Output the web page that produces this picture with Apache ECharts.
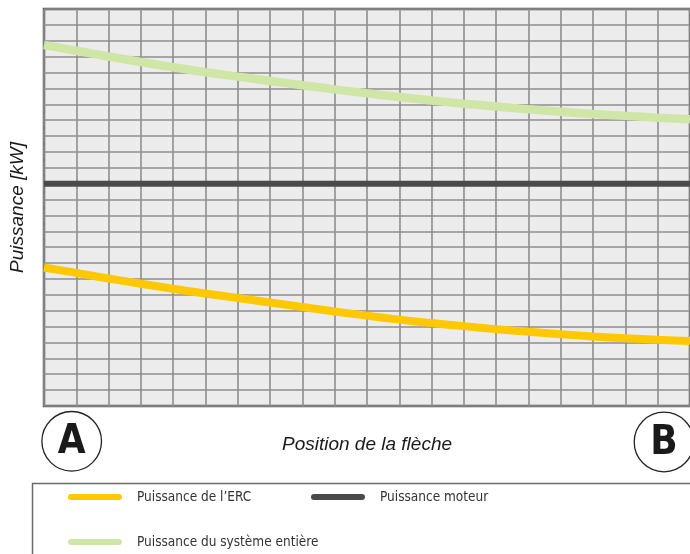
<!DOCTYPE html>
<html>
<head>
<meta charset="utf-8">
<script src="https://cdn.jsdelivr.net/npm/echarts@6/dist/echarts.min.js"></script>
<style>
html,body{margin:0;padding:0;background:#fff;}
#chart{width:690px;height:554px;}
</style>
</head>
<body>
<div id="chart"></div>
<script>
// ---- data ----
const positions = [0,1,2,3,4,5,6,7,8,9,10,11,12,13,14,15,16,17,18,19,20];
const ercPower = [8.72,8.38,8.03,7.70,7.38,7.08,6.80,6.52,6.23,5.95,5.69,5.44,5.22,5.03,4.84,4.67,4.52,4.38,4.26,4.17,4.09];
const motorPower = [14,14,14,14,14,14,14,14,14,14,14,14,14,14,14,14,14,14,14,14,14];
const systemPower = [22.73,22.37,22.01,21.66,21.33,21.02,20.74,20.47,20.20,19.94,19.69,19.46,19.24,19.04,18.86,18.68,18.53,18.39,18.27,18.15,18.05];
const seriesNames = ["Puissance de l\u2019ERC","Puissance moteur","Puissance du syst\u00e8me enti\u00e8re"];
const axisTitles = {x:"Position de la fl\u00e8che", y:"Puissance [kW]"};
const endLabels = ["A","B"];

const pair = (vals) => positions.map((p,i)=>[p, vals[i]]);
const condensed = "'Liberation Sans Narrow','DejaVu Sans Condensed','Roboto Condensed',sans-serif";
const legendText = {color:'#333', fontFamily:condensed, fontSize:13.5, padding:[0,0,0,10]};
const iconPath = 'path://M3,0 H51 A3,3 0 0 1 51,6 H3 A3,3 0 0 1 3,0 Z';
const titleFont = {fontStyle:'italic', fontSize:19, color:'#1a1a1a', fontFamily:"'Liberation Sans',Arial,sans-serif"};

const chart = echarts.init(document.getElementById('chart'), null, {renderer:'canvas'});
chart.setOption({
  animation:false,
  backgroundColor:'#fff',
  grid:{left:41, top:9, right:-4, bottom:148, show:true, backgroundColor:'#ebeceb', borderColor:'#505050', borderWidth:2.5, containLabel:false},
  xAxis:{type:'value', min:0, max:20, interval:1,
    name:axisTitles.x, nameLocation:'middle', nameGap:29, nameTextStyle:titleFont,
    axisLine:{show:false}, axisTick:{show:false}, axisLabel:{show:false},
    splitLine:{show:true, lineStyle:{color:'#8e8e8e', width:1.6}}},
  yAxis:{type:'value', min:0, max:25, interval:1,
    name:axisTitles.y, nameLocation:'middle', nameGap:17, nameRotate:90, nameTextStyle:titleFont,
    axisLine:{show:false}, axisTick:{show:false}, axisLabel:{show:false},
    splitLine:{show:true, lineStyle:{color:'#8e8e8e', width:1.6}}},
  legend:[
    {data:[seriesNames[0]], left:68, top:490, itemWidth:54, itemHeight:6, icon:iconPath, textStyle:legendText, padding:0},
    {data:[seriesNames[1]], left:311, top:490, itemWidth:54, itemHeight:6, icon:iconPath, textStyle:legendText, padding:0},
    {data:[seriesNames[2]], left:68, top:535, itemWidth:54, itemHeight:6, icon:iconPath, textStyle:legendText, padding:0}
  ],
  series:[
    {name:seriesNames[0], type:'line', data:pair(ercPower), smooth:0.4, symbol:'none',
      lineStyle:{color:'#ffc800', width:8}, itemStyle:{color:'#ffc800'}, z:3},
    {name:seriesNames[1], type:'line', data:pair(motorPower), symbol:'none',
      lineStyle:{color:'#4a4a4a', width:6}, itemStyle:{color:'#4a4a4a'}, z:3},
    {name:seriesNames[2], type:'line', data:pair(systemPower), smooth:0.4, symbol:'none',
      lineStyle:{color:'#cfe6a6', width:8.5}, itemStyle:{color:'#cfe6a6'}, z:3}
  ],
  graphic:[
    {type:'rect', left:30, top:481, shape:{width:700, height:100}, style:{fill:'none', stroke:'#6a6a6a', lineWidth:1.5}, z:-1},
    {type:'circle', shape:{cx:71.7, cy:441.3, r:29.8}, style:{fill:'#fff', stroke:'#222', lineWidth:1.3}},
    {type:'text', x:71.7, y:443, style:{text:endLabels[0], fontSize:40, fontWeight:'bold', fontFamily:condensed, fill:'#1a1a1a', align:'center', verticalAlign:'middle'}},
    {type:'circle', shape:{cx:664, cy:442, r:29.8}, style:{fill:'#fff', stroke:'#222', lineWidth:1.3}},
    {type:'text', x:664, y:444, style:{text:endLabels[1], fontSize:40, fontWeight:'bold', fontFamily:condensed, fill:'#1a1a1a', align:'center', verticalAlign:'middle'}}
  ]
});
</script>
</body>
</html>
